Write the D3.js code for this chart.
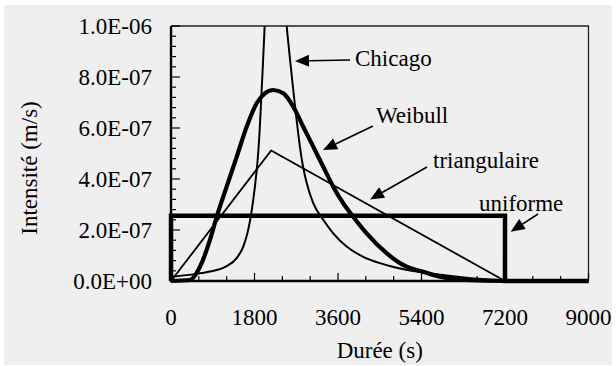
<!DOCTYPE html>
<html>
<head>
<meta charset="utf-8">
<script src="https://cdn.jsdelivr.net/npm/d3@7"></script>
<style>
  html, body { margin: 0; padding: 0; background: #ffffff; }
  svg { display: block; }
  text { font-family: "Liberation Serif", "Times New Roman", serif; fill: #000; }
</style>
</head>
<body>
<svg id="chart" width="616" height="366"></svg>
<script>
// Design storm hyetographs: intensity (m/s) versus duration (s)
const xTicks = [0, 600, 1200, 1800, 2400, 3000, 3600, 4200, 4800, 5400, 6000, 6600, 7200, 7800, 8400, 9000];
const xTickLabels = ["0", "1800", "3600", "5400", "7200", "9000"];
const xLabelValues = [0, 1800, 3600, 5400, 7200, 9000];
const yMinorTicks = d3.range(0, 26).map(i => i * 4e-8);
const yLabelValues = [0, 2e-7, 4e-7, 6e-7, 8e-7, 1e-6];
const yTickLabels = ["0.0E+00", "2.0E-07", "4.0E-07", "6.0E-07", "8.0E-07", "1.0E-06"];

// Chicago storm (peak runs off the top of the axis)
const chicagoT = [0, 480, 840, 1200, 1416, 1558, 1644, 1702, 1767, 1842, 1881, 1903, 1939, 1976, 2004, 2030,
                  2080, 2160, 2320, 2493, 2564, 2635, 2708, 2780, 2850, 2924, 3066, 3282, 3497, 3786, 4143,
                  4503, 4863, 5645, 6371, 7089, 7200];
const chicagoI = [0.17e-7, 0.26e-7, 0.37e-7, 0.58e-7, 0.90e-7, 1.35e-7, 1.85e-7, 2.35e-7, 3.10e-7, 4.25e-7,
                  5.05e-7, 5.65e-7, 6.90e-7, 8.30e-7, 9.40e-7, 10.5e-7,
                  13.5e-7, 20.0e-7, 14.0e-7, 10.0e-7, 8.72e-7, 7.50e-7, 6.32e-7, 5.25e-7, 4.45e-7, 3.85e-7,
                  3.05e-7, 2.40e-7, 1.87e-7, 1.35e-7, 0.95e-7, 0.70e-7, 0.52e-7, 0.28e-7, 0.13e-7, 0.04e-7, 0.03e-7];

// Weibull storm
const weibullT = [0, 409, 625, 840, 985, 1200, 1416, 1631, 1847, 2025, 2204, 2420, 2635, 2850, 3066,
                  3282, 3497, 3713, 3915, 4217, 4648, 4935, 5079, 5400, 5645, 6000, 6356, 7200, 9000];
const weibullI = [0, 0.04e-7, 0.56e-7, 1.61e-7, 2.52e-7, 3.70e-7, 4.87e-7, 6.05e-7, 6.97e-7, 7.36e-7,
                  7.49e-7, 7.36e-7, 6.84e-7, 6.05e-7, 5.27e-7, 4.48e-7, 3.70e-7, 3.05e-7, 2.55e-7,
                  1.87e-7, 1.09e-7, 0.70e-7, 0.56e-7, 0.38e-7, 0.24e-7, 0.10e-7, 0.04e-7, 0, 0];

// Triangular storm
const triangleT = [0, 2160, 7200];
const triangleI = [0, 5.12e-7, 0];

// Uniform storm
const uniformT = [0, 0, 7200, 7200, 9000];
const uniformI = [0, 2.56e-7, 2.56e-7, 0, 0];

const svg = d3.select("#chart");
const W = 616, H = 366;
const plot = { left: 171, right: 588.5, top: 26, bottom: 281 };

svg.append("rect").attr("x", 4).attr("y", 5).attr("width", W - 8).attr("height", H - 6)
  .attr("fill", "#efefef");

const x = d3.scaleLinear().domain([0, 9000]).range([plot.left, plot.right]);
const y = d3.scaleLinear().domain([0, 1e-6]).range([plot.bottom, plot.top]);

// frame (top and right)
svg.append("path")
  .attr("d", `M${plot.left},${plot.top}H${plot.right}V${plot.bottom}`)
  .attr("fill", "none").attr("stroke", "#222").attr("stroke-width", 1.3);

// inward tick marks
const ticksG = svg.append("g").attr("stroke", "#000").attr("stroke-width", 1.2);
ticksG.selectAll(".yt").data(yMinorTicks).join("line")
  .attr("x1", plot.left).attr("x2", (d, i) => plot.left + (i % 5 === 0 ? 9 : 5))
  .attr("y1", d => y(d)).attr("y2", d => y(d));
ticksG.selectAll(".xt").data(xTicks).join("line")
  .attr("x1", d => x(d)).attr("x2", d => x(d))
  .attr("y1", plot.bottom).attr("y2", (d, i) => plot.bottom - (i % 3 === 0 ? 8 : 5));

// axis lines
svg.append("path")
  .attr("d", `M${plot.left},${plot.top}V${plot.bottom}H${plot.right}`)
  .attr("fill", "none").attr("stroke", "#000").attr("stroke-width", 2.4);

// tick labels
svg.selectAll(".ylab").data(yLabelValues).join("text")
  .attr("x", 152).attr("y", d => y(d)).attr("dy", "0.33em")
  .attr("text-anchor", "end").attr("font-size", 23)
  .text((d, i) => yTickLabels[i]);
svg.selectAll(".xlab").data(xLabelValues).join("text")
  .attr("x", d => x(d)).attr("y", 325)
  .attr("text-anchor", "middle").attr("font-size", 23)
  .text((d, i) => xTickLabels[i]);

// axis titles
svg.append("text").attr("x", (plot.left + plot.right) / 2).attr("y", 358)
  .attr("text-anchor", "middle").attr("font-size", 23).text("Durée (s)");
svg.append("text").attr("transform", "translate(37,168) rotate(-90)")
  .attr("text-anchor", "middle").attr("font-size", 23).text("Intensité (m/s)");

// clip curves at the top of the plot
svg.append("clipPath").attr("id", "clipTop").append("rect")
  .attr("x", plot.left - 10).attr("y", plot.top).attr("width", plot.right - plot.left + 20)
  .attr("height", plot.bottom - plot.top + 10);

const curves = svg.append("g").attr("clip-path", "url(#clipTop)").attr("fill", "none")
  .attr("stroke", "#000").attr("stroke-linejoin", "round");

const smooth = d3.line().x(d => x(d[0])).y(d => y(d[1])).curve(d3.curveMonotoneX);
const straight = d3.line().x(d => x(d[0])).y(d => y(d[1]));

curves.append("path").datum(d3.zip(triangleT, triangleI))
  .attr("d", straight).attr("stroke-width", 1.8);
curves.append("path").datum(d3.zip(chicagoT, chicagoI))
  .attr("d", smooth).attr("stroke-width", 2);
curves.append("path").datum(d3.zip(weibullT, weibullI))
  .attr("d", smooth).attr("stroke-width", 4.2);
curves.append("path").datum(d3.zip(uniformT, uniformI))
  .attr("d", straight).attr("stroke-width", 4.5).attr("stroke-linejoin", "miter");

// labels with arrows
const notes = [
  { text: "Chicago",      tx: 355, ty: 66,  from: [350, 60],  to: [295, 61] },
  { text: "Weibull",      tx: 376, ty: 123, from: [373, 126], to: [323, 150] },
  { text: "triangulaire", tx: 433, ty: 168, from: [427, 167], to: [370, 199.5] },
  { text: "uniforme",     tx: 479, ty: 211, from: [538, 214], to: [510.7, 231.7] }
];
const noteG = svg.append("g");
notes.forEach(n => {
  const dx = n.to[0] - n.from[0], dy = n.to[1] - n.from[1];
  const len = Math.hypot(dx, dy), ux = dx / len, uy = dy / len;
  const headL = 14, headW = 6;
  const bx = n.to[0] - ux * headL, by = n.to[1] - uy * headL;
  noteG.append("line").attr("x1", n.from[0]).attr("y1", n.from[1]).attr("x2", bx).attr("y2", by)
    .attr("stroke", "#000").attr("stroke-width", 1.6);
  noteG.append("path")
    .attr("d", `M${n.to[0]},${n.to[1]}L${bx - uy * headW},${by + ux * headW}L${bx + uy * headW},${by - ux * headW}Z`)
    .attr("fill", "#000");
  noteG.append("text").attr("x", n.tx).attr("y", n.ty).attr("font-size", 23).text(n.text);
});
</script>
</body>
</html>
